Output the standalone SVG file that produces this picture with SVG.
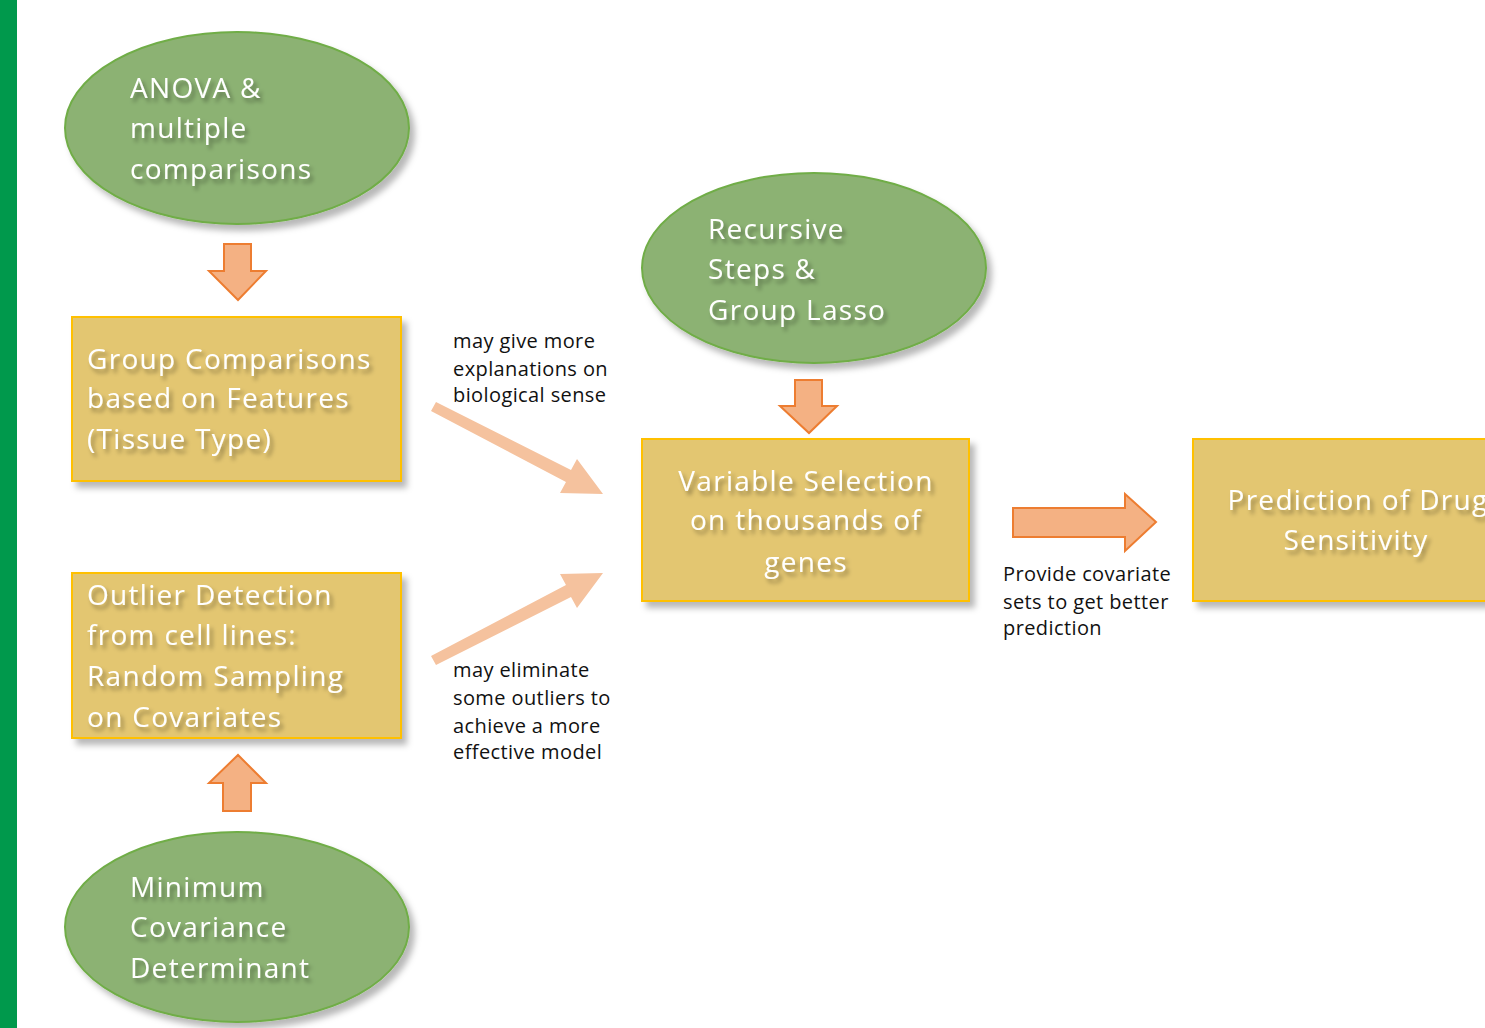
<svg xmlns="http://www.w3.org/2000/svg" width="1485" height="1028" viewBox="0 0 1485 1028">
<defs>
<filter id="sh" x="-10%" y="-10%" width="130%" height="140%">
<feDropShadow dx="5" dy="6" stdDeviation="3" flood-color="#000" flood-opacity="0.28"/>
</filter>
<filter id="tsh" x="-5%" y="-20%" width="115%" height="160%">
<feDropShadow dx="3" dy="4" stdDeviation="2" flood-color="#000" flood-opacity="0.35"/>
</filter>
<style>
.ell{fill:#8CB273;stroke:#70AD47;stroke-width:2;filter:url(#sh)}
.box{fill:#E3C671;stroke:#FFC000;stroke-width:2;filter:url(#sh)}
.blk{fill:#F4B183;stroke:#ED7D31;stroke-width:2}
.diag{fill:#F5C29E;stroke:none}
.t{font-family:"Open Sans","Liberation Sans",sans-serif;font-size:28px;fill:#FFFFFF;filter:url(#tsh);letter-spacing:1.3px}
.s{font-family:"Open Sans","Liberation Sans",sans-serif;font-size:20px;fill:#111111;letter-spacing:0.4px}
</style>
</defs>
<rect x="0" y="0" width="1485" height="1028" fill="#FFFFFF"/>
<rect x="0" y="0" width="17" height="1028" fill="#00994C"/>

<g id="connectors">
<path class="blk" d="M224,244 H251 V271 H266 L238,300 L209,271 H224 Z"/>
<path class="blk" d="M223,811 H251 V783 H266 L238,755 L209,783 H223 Z"/>
<path class="blk" d="M795,380 H822 V406 H837 L809,433 L780,406 H795 Z"/>
<path class="blk" d="M1013,508 H1125 V494 L1156,522 L1125,551 V537 H1013 Z"/>
<path class="diag" d="M431,411 L436,402 L571,470 L577,459 L603,494 L560,493 L566,482 Z"/>
<path class="diag" d="M431,656 L436,665 L571,597 L577,608 L603,573 L560,574 L566,585 Z"/>
</g>

<g id="anova">
<ellipse class="ell" cx="237" cy="128" rx="172" ry="96"/>
<text class="t" x="130" y="98">ANOVA &amp;</text>
<text class="t" x="130" y="138">multiple</text>
<text class="t" x="130" y="179">comparisons</text>
</g>

<g id="group-comparisons">
<rect class="box" x="72" y="317" width="329" height="164"/>
<text class="t" x="87" y="369">Group Comparisons</text>
<text class="t" x="87" y="408">based on Features</text>
<text class="t" x="87" y="449">(Tissue Type)</text>
</g>

<g id="outlier-detection">
<rect class="box" x="72" y="573" width="329" height="165"/>
<text class="t" x="87" y="605">Outlier Detection</text>
<text class="t" x="87" y="645">from cell lines:</text>
<text class="t" x="87" y="686">Random Sampling</text>
<text class="t" x="87" y="727">on Covariates</text>
</g>

<g id="mcd">
<ellipse class="ell" cx="237" cy="927" rx="172" ry="95"/>
<text class="t" x="130" y="897">Minimum</text>
<text class="t" x="130" y="937">Covariance</text>
<text class="t" x="130" y="978">Determinant</text>
</g>

<g id="recursive">
<ellipse class="ell" cx="814" cy="268" rx="172" ry="95"/>
<text class="t" x="708" y="239">Recursive</text>
<text class="t" x="708" y="279">Steps &amp;</text>
<text class="t" x="708" y="320">Group Lasso</text>
</g>

<g id="variable-selection">
<rect class="box" x="642" y="439" width="327" height="162"/>
<text class="t" x="806" y="491" text-anchor="middle">Variable Selection</text>
<text class="t" x="806" y="530" text-anchor="middle">on thousands of</text>
<text class="t" x="806" y="572" text-anchor="middle">genes</text>
</g>

<g id="prediction">
<rect class="box" x="1193" y="439" width="310" height="162"/>
<text class="t" x="1358" y="510" text-anchor="middle">Prediction of Drug</text>
<text class="t" x="1356" y="550" text-anchor="middle">Sensitivity</text>
</g>

<g id="labels">
<text class="s" x="453" y="348">may give more</text>
<text class="s" x="453" y="376">explanations on</text>
<text class="s" x="453" y="402">biological sense</text>
<text class="s" x="453" y="677">may eliminate</text>
<text class="s" x="453" y="705">some outliers to</text>
<text class="s" x="453" y="733">achieve a more</text>
<text class="s" x="453" y="759">effective model</text>
<text class="s" x="1003" y="581">Provide covariate</text>
<text class="s" x="1003" y="609">sets to get better</text>
<text class="s" x="1003" y="635">prediction</text>
</g>
</svg>
